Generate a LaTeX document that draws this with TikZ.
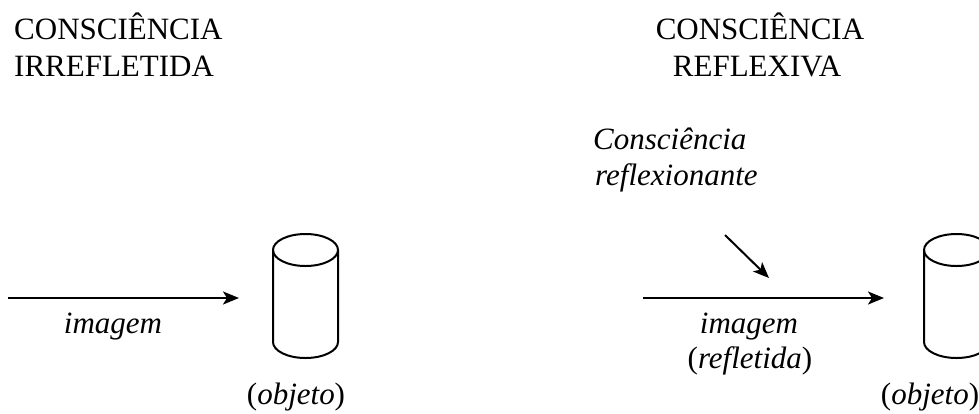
\documentclass[tikz,border=0pt]{standalone}
\usepackage{fontspec}
\setmainfont{Liberation Serif}
\usetikzlibrary{arrows.meta}
\begin{document}
\begin{tikzpicture}[x=1pt,y=-1pt,
  lbl/.style={inner sep=0pt, font=\fontsize{31}{37}\selectfont},
  ilbl/.style={inner sep=0pt, font=\fontsize{31}{37}\selectfont\itshape},
  arr/.style={line width=2pt, -{Stealth[length=16pt,width=13pt,inset=4pt]}},
  cylline/.style={line width=2pt}]
\useasboundingbox (0,0) rectangle (979,413);
% titles
\node[lbl, anchor=base west] (t1a) at (14,39) {CONSCIÊNCIA};
\node[lbl, anchor=base west] (t1b) at (14,76) {IRREFLETIDA};
\node[lbl, anchor=base] (t2a) at (760,39) {CONSCIÊNCIA};
\node[lbl, anchor=base] (t2b) at (757,76) {REFLEXIVA};
% reflecting consciousness
\node[ilbl, anchor=base west] (c1) at (593,149) {Consciência};
\node[ilbl, anchor=base west] (c2) at (595,185) {reflexionante};
% arrows
\coordinate (a1s) at (8,298);
\coordinate (a1e) at (239,298);
\coordinate (a2s) at (643,298);
\coordinate (a2e) at (884,298);
\coordinate (dgs) at (725,235);
\coordinate (dge) at (769,278);
\draw[arr] (a1s) -- (a1e);
\draw[arr] (a2s) -- (a2e);
\draw[arr] (dgs) -- (dge);
% labels
\node[ilbl, anchor=base] (im1) at (113,333) {imagem};
\node[ilbl, anchor=base] (im2) at (749,333) {imagem};
\node[lbl, anchor=base] (rf) at (750,368) {(\textit{refletida})};
\node[lbl, anchor=base] (ob1) at (296,404) {(\textit{objeto})};
\node[lbl, anchor=base] (ob2) at (930,404) {(\textit{objeto})};
% cylinders
\foreach \cx in {305.5,956.5}{
  \draw[cylline] (\cx,250) ellipse [x radius=32.5, y radius=16];
  \draw[cylline] (\cx-32.5,250) -- (\cx-32.5,342)
     arc[start angle=180, end angle=0, x radius=32.5, y radius=16]
     -- (\cx+32.5,250);
}
\end{tikzpicture}
\end{document}
